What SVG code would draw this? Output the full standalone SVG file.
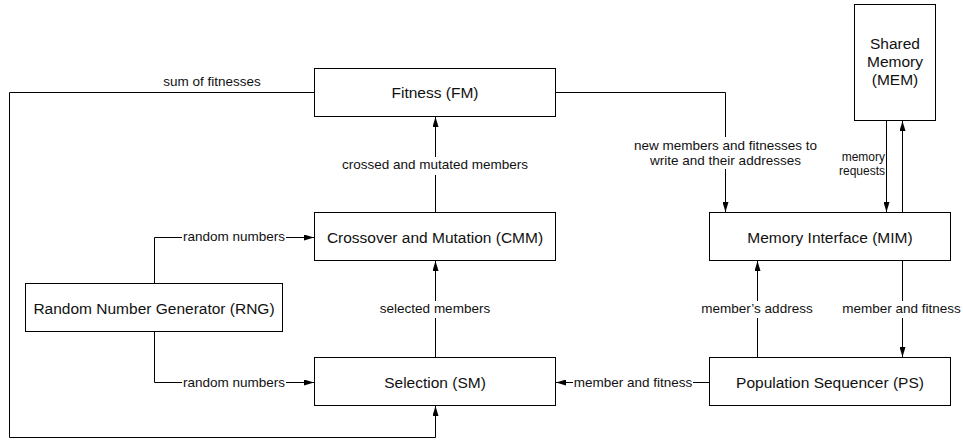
<svg xmlns="http://www.w3.org/2000/svg" width="963" height="443" viewBox="0 0 963 443">
<style>
.box{fill:#fff;stroke:#000;stroke-width:1}
.node{font-family:"Liberation Sans",Arial,Helvetica,sans-serif;font-size:15.5px;fill:#111;text-anchor:middle}
.lbl{font-family:"Liberation Sans",Arial,Helvetica,sans-serif;font-size:13.5px;fill:#111;text-anchor:middle}
.sm{font-size:12px;text-anchor:end}
.edge{fill:none;stroke:#000;stroke-width:1}
.bg{fill:#fff}
</style>
<defs>
<marker id="arr" markerUnits="userSpaceOnUse" markerWidth="10" markerHeight="6" refX="10" refY="3" orient="auto">
<path d="M0,0 L10,3 L0,6 z" fill="#000"/>
</marker>
</defs>
<rect width="963" height="443" fill="#fff"/>
<g id="connectors">
<path class="edge" d="M314.5,92.5 H9.5 V437.5 H435.5 V406" marker-end="url(#arr)"/>
<path class="edge" d="M555.5,92.5 H725.5 V212" marker-end="url(#arr)"/>
<path class="edge" d="M435.5,212.5 V117" marker-end="url(#arr)"/>
<path class="edge" d="M435.5,357.5 V261" marker-end="url(#arr)"/>
<path class="edge" d="M154.5,283.5 V237.5 H314" marker-end="url(#arr)"/>
<path class="edge" d="M154.5,331.5 V382.5 H314" marker-end="url(#arr)"/>
<path class="edge" d="M709.5,382.5 H556" marker-end="url(#arr)"/>
<path class="edge" d="M757.5,357.5 V261" marker-end="url(#arr)"/>
<path class="edge" d="M902.5,260.5 V357" marker-end="url(#arr)"/>
<path class="edge" d="M886.5,120.5 V212" marker-end="url(#arr)"/>
<path class="edge" d="M902.5,212.5 V121" marker-end="url(#arr)"/>
<rect class="bg" x="633" y="137" width="185" height="32"/>
<rect class="bg" x="340" y="157" width="190" height="18"/>
<rect class="bg" x="379" y="301" width="112" height="17"/>
<rect class="bg" x="182" y="229" width="104" height="17"/>
<rect class="bg" x="182" y="374" width="104" height="17"/>
<rect class="bg" x="573" y="374" width="120" height="17"/>
<rect class="bg" x="701" y="301" width="112" height="17"/>
<rect class="bg" x="842" y="301" width="119" height="17"/>
<text class="lbl" x="212" y="86">sum of fitnesses</text>
<text class="lbl" x="725.5" y="150">new members and fitnesses to</text>
<text class="lbl" x="725.5" y="165">write and their addresses</text>
<text class="lbl" x="435" y="169">crossed and mutated members</text>
<text class="lbl" x="435" y="313">selected members</text>
<text class="lbl" x="234" y="241">random numbers</text>
<text class="lbl" x="234" y="386.5">random numbers</text>
<text class="lbl" x="633" y="386.5">member and fitness</text>
<text class="lbl" x="757" y="313">member’s address</text>
<text class="lbl" x="901.5" y="313">member and fitness</text>
<text class="lbl sm" x="885" y="161">memory</text>
<text class="lbl sm" x="885" y="175">requests</text>
</g>
<g id="fitness">
<rect class="box" x="314.5" y="68.5" width="241" height="48"/>
<text class="node" x="435" y="98">Fitness (FM)</text>
</g>
<g id="crossover">
<rect class="box" x="314.5" y="212.5" width="241" height="48"/>
<text class="node" x="435" y="242.5">Crossover and Mutation (CMM)</text>
</g>
<g id="selection">
<rect class="box" x="314.5" y="357.5" width="241" height="48"/>
<text class="node" x="435" y="387.5">Selection (SM)</text>
</g>
<g id="rng">
<rect class="box" x="25.5" y="283.5" width="257" height="48"/>
<text class="node" x="154" y="313.5">Random Number Generator (RNG)</text>
</g>
<g id="mim">
<rect class="box" x="709.5" y="212.5" width="241" height="48"/>
<text class="node" x="830" y="242.5">Memory Interface (MIM)</text>
</g>
<g id="ps">
<rect class="box" x="709.5" y="357.5" width="241" height="48"/>
<text class="node" x="830" y="387.5">Population Sequencer (PS)</text>
</g>
<g id="mem">
<rect class="box" x="854.5" y="4.5" width="81" height="116"/>
<text class="node" x="895" y="49">Shared</text>
<text class="node" x="895" y="67">Memory</text>
<text class="node" x="895" y="85">(MEM)</text>
</g>
</svg>
